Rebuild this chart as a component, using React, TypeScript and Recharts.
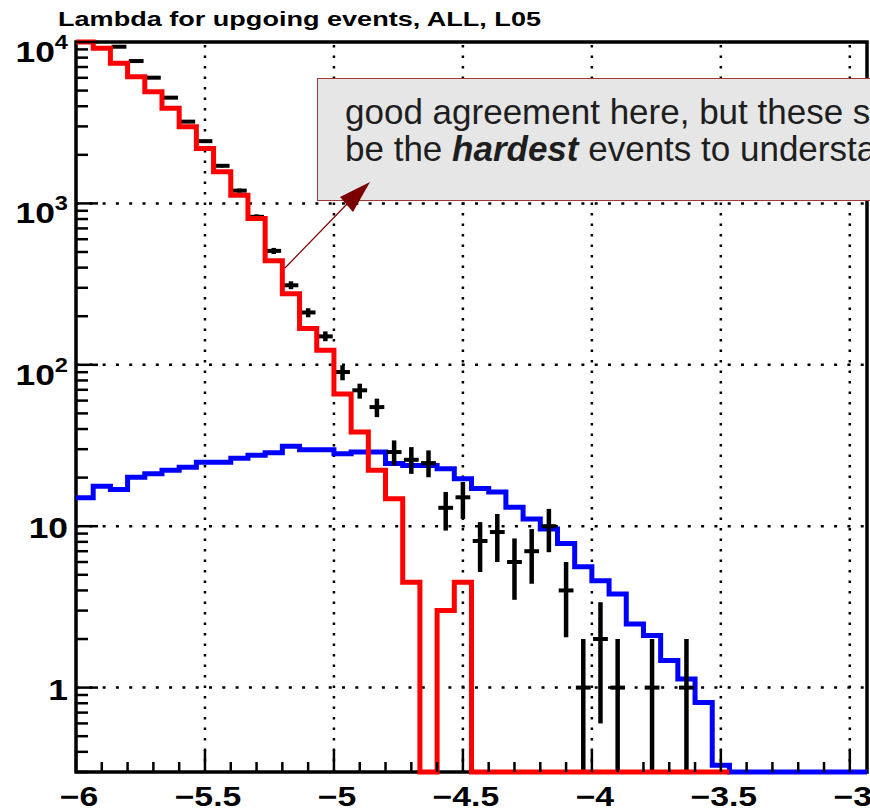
import React from 'react';
import { ComposedChart, Line, Scatter, XAxis, YAxis, ErrorBar, ReferenceLine, ReferenceArea } from 'recharts';

// histogram binning: 46 bins of 1/15 starting at -6
const X_MIN = -6;
const BIN_W = 1 / 15;
const N_BINS = 46;
const X_MAX = X_MIN + N_BINS * BIN_W;
const Y_MIN = 0.3;
const Y_MAX = 10000;

// red histogram (bins 0..37)
const redCounts = [
  10000, 9150, 7380, 6100, 4920, 3880, 2985, 2190, 1570, 1125,
  807, 441, 276, 168, 123, 66, 38.3, 22.2, 14.8, 4.5,
  0, 3.0, 4.5, 0, 0, 0, 0, 0, 0, 0,
  0, 0, 0, 0, 0, 0, 0, 0,
];

// blue histogram (bins 0..45)
const blueCounts = [
  15.0, 17.7, 16.9, 20.1, 21.1, 22.2, 23.2, 24.9, 24.9, 26.4,
  27.5, 28.5, 31.3, 29.8, 29.8, 28.1, 28.8, 28.8, 24.5, 23.8,
  23.8, 22.7, 19.7, 17.1, 16.3, 13.1, 11.1, 9.6, 7.8, 5.6,
  4.6, 3.8, 2.48, 2.1, 1.47, 1.13, 0.81, 0.33, 0, 0,
  0, 0, 0, 0, 0, 0,
];

// data points (null = empty / off scale)
const dataCounts = [
  null, null, 9350, 7620, 6010, 4520, 3210, 2430, 1710, 1200,
  826, 508, 311, 211, 150, 90.2, 69.5, 54.7, 28.8, 25.8,
  24.6, 13.0, 15.1, 8.1, 9.2, 6.0, 7.0, 10.0, 4.0, 1,
  2, 1, null, 1, null, 1, null, null, null, null,
  null, null, null, null, null, null,
];
const dataLow = [
  null, null, 9250, 7530, 5930, 4450, 3150, 2380, 1670, 1165,
  797, 486, 294, 197, 140, 80.2, 61.7, 47.4, 23.8, 21.1,
  20.1, 9.4, 11.1, 5.2, 6.0, 3.5, 4.4, 6.9, 2.05, 0.3,
  0.6, 0.3, null, 0.3, null, 0.3, null, null, null, null,
  null, null, null, null, null, null,
];
const dataHigh = [
  null, null, 9450, 7710, 6090, 4590, 3270, 2480, 1750, 1235,
  855, 530, 329, 224, 161, 99.3, 76.4, 61.7, 34.0, 30.9,
  29.5, 16.3, 18.8, 10.6, 11.9, 8.4, 9.6, 12.8, 6.0, 2.0,
  3.38, 2.0, null, 2.0, null, 2.0, null, null, null, null,
  null, null, null, null, null, null,
];

const xMajorTicks = [-6, -5.5, -5, -4.5, -4, -3.5, -3];
const xTickLabels = ['\u22126', '\u22125.5', '\u22125', '\u22124.5', '\u22124', '\u22123.5', '\u22123'];
const yMajorTicks = [1, 10, 100, 1000, 10000];
const yLabelBase = ['1', '10', '10', '10', '10'];
const yLabelExp = ['', '', '2', '3', '4'];

const TITLE = 'Lambda for upgoing events, ALL, L05';
const FONT = "'Liberation Sans', Arial, Helvetica, sans-serif";

// minor ticks every 0.1 in x, 2..9 per decade in y
const xTicks: number[] = [];
for (let k = -60; k <= -30; k++) xTicks.push(k / 10);
const yTicks: number[] = [];
for (let d = -1; d <= 3; d++) {
  for (let m = 1; m <= 9; m++) {
    const v = m * Math.pow(10, d);
    if (v >= Y_MIN - 1e-9) yTicks.push(Number(v.toPrecision(3)));
  }
}
yTicks.push(10000);

const toSteps = (counts: number[]) => {
  const pts = counts.map((c, i) => ({ x: X_MIN + i * BIN_W, y: Math.max(c, Y_MIN) }));
  pts.push({ x: X_MIN + counts.length * BIN_W, y: Math.max(counts[counts.length - 1], Y_MIN) });
  return pts;
};

const redSteps = toSteps(redCounts);
const blueSteps = toSteps(blueCounts);

const X_ERR = BIN_W * 0.43;
const points = dataCounts
  .map((v, i) =>
    v == null
      ? null
      : {
          x: X_MIN + (i + 0.5) * BIN_W,
          y: v,
          ey: [v - (dataLow[i] as number), (dataHigh[i] as number) - v],
          ex: X_ERR,
        }
  )
  .filter(Boolean) as any[];

const XTick = (props: any) => {
  const { x, y, payload } = props;
  const v = payload.value;
  const idx = xMajorTicks.findIndex(t => Math.abs(t - v) < 1e-6);
  const major = idx >= 0;
  return (
    <g>
      <line x1={x} x2={x} y1={y} y2={y - (major ? 22 : 10)} stroke="#000" strokeWidth={2.5} />
      {major && (
        <g transform={`translate(${x + 3},${y + 34}) scale(1.25,1)`}>
          <text textAnchor="middle" fontSize={27} fontWeight="bold" fontFamily={FONT} fill="#000">
            {xTickLabels[idx]}
          </text>
        </g>
      )}
    </g>
  );
};

const YTick = (props: any) => {
  const { x, y, payload } = props;
  const v = payload.value;
  const idx = yMajorTicks.findIndex(t => Math.abs(t - v) < 1e-6);
  const major = idx >= 0;
  const hasExp = major && yLabelExp[idx] !== '';
  return (
    <g>
      <line x1={x} x2={x + (major ? 22 : 12)} y1={y} y2={y} stroke="#000" strokeWidth={2.5} />
      {major && (
        <g transform={`translate(${x - 8},${y + (hasExp ? 20 : 12)}) scale(1.18,1)`}>
          <text textAnchor="end" fontSize={30} fontWeight="bold" fontFamily={FONT} fill="#000">
            {yLabelBase[idx]}
            {hasExp && (
              <tspan dy={-13} fontSize={20}>
                {yLabelExp[idx]}
              </tspan>
            )}
          </text>
        </g>
      )}
    </g>
  );
};

export default function App() {
  return (
    <div
      style={{
        position: 'absolute',
        left: 0,
        top: 0,
        width: 870,
        height: 811,
        overflow: 'hidden',
        background: '#fff',
      }}
    >
      <ComposedChart width={870} height={811} margin={{ top: 42, right: 3, bottom: 0, left: 0 }}>
        <XAxis
          type="number"
          dataKey="x"
          domain={[X_MIN, X_MAX]}
          ticks={xTicks}
          interval={0}
          height={39}
          tickSize={0}
          tickMargin={0}
          axisLine={false}
          tickLine={false}
          tick={(p: any) => <XTick {...p} />}
        />
        <YAxis
          type="number"
          scale="log"
          domain={[Y_MIN, Y_MAX]}
          ticks={yTicks}
          interval={0}
          width={76}
          tickSize={0}
          tickMargin={0}
          axisLine={false}
          tickLine={false}
          tick={(p: any) => <YTick {...p} />}
        />
        <ReferenceArea x1={X_MIN} x2={X_MAX} y1={Y_MIN} y2={Y_MAX} fill="none" stroke="#000" strokeWidth={3.5} />
        {xMajorTicks.slice(1).map(v => (
          <ReferenceLine key={'gx' + v} x={v} stroke="#000" strokeWidth={2.5} strokeDasharray="2.5 8" />
        ))}
        {yMajorTicks.slice(0, 4).map(v => (
          <ReferenceLine key={'gy' + v} y={v} stroke="#000" strokeWidth={2.5} strokeDasharray="3 10.3" />
        ))}
        <Line
          data={blueSteps}
          dataKey="y"
          type="stepAfter"
          stroke="#0000ff"
          strokeWidth={5}
          dot={false}
          activeDot={false}
          isAnimationActive={false}
        />
        <Scatter data={points} dataKey="y" shape={() => <g />} isAnimationActive={false}>
          <ErrorBar dataKey="ey" direction="y" width={0} stroke="#000" strokeWidth={4.5} isAnimationActive={false} />
          <ErrorBar dataKey="ex" direction="x" width={0} stroke="#000" strokeWidth={4} isAnimationActive={false} />
        </Scatter>
        <Line
          data={redSteps}
          dataKey="y"
          type="stepAfter"
          stroke="#ff0000"
          strokeWidth={5}
          dot={false}
          activeDot={false}
          isAnimationActive={false}
        />
      </ComposedChart>

      <svg
        width={870}
        height={811}
        style={{ position: 'absolute', left: 0, top: 0, pointerEvents: 'none' }}
      >
        <text
          x={58}
          y={26}
          fontFamily={FONT}
          fontWeight="bold"
          fontSize={21}
          textLength={483}
          lengthAdjust="spacingAndGlyphs"
          fill="#000"
        >
          {TITLE}
        </text>
        <rect x={317.5} y={78.5} width={620} height={122} fill="#e6e6e6" stroke="#a33a3a" strokeWidth={1} />
        <text x={345} y={124} fontFamily={FONT} fontSize={35} fill="#1e1e1e">
          good agreement here, but these should
        </text>
        <text x={345} y={161} fontFamily={FONT} fontSize={35} fill="#1e1e1e">
          be the{' '}
          <tspan fontWeight="bold" fontStyle="italic">
            hardest
          </tspan>{' '}
          events to understand
        </text>
        <line x1={285} y1={268} x2={348} y2={203} stroke="#800000" strokeWidth={1.2} />
        <polygon points="370,182 340,197 353,212" fill="#7a0000" />
      </svg>
    </div>
  );
}
